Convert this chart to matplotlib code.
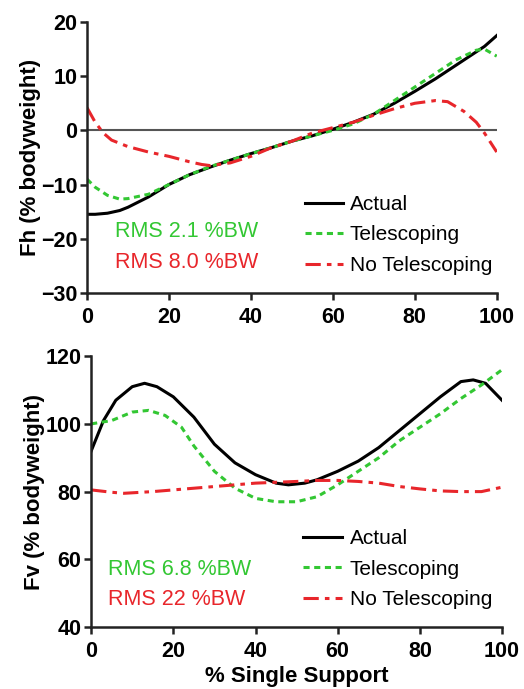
import matplotlib

matplotlib.use("Agg")
import matplotlib.pyplot as plt

plt.rcParams['font.family'] = ['Liberation Sans', 'DejaVu Sans']

GREEN = '#33c733'
RED = '#e8262b'

# Fh (% bodyweight), top panel
fh_x = [0, 2, 5, 8, 10, 15, 20, 25, 30, 35, 40, 45, 50, 55, 60, 65, 70, 75, 80, 85, 90, 95, 97, 100]
fh_actual = [-15.5, -15.5, -15.3, -14.8, -14.2, -12.3, -10.0, -8.2, -6.8, -5.5, -4.3, -3.2, -2.0, -1.0, 0.2,
             1.5, 3.0, 5.0, 7.2, 9.5, 12.0, 14.5, 15.5, 17.5]
fh_tele = [-9.0, -10.5, -12.0, -12.7, -12.6, -11.8, -10.0, -8.2, -6.7, -5.5, -4.3, -3.2, -2.0, -1.0, 0.0,
           1.2, 3.0, 5.5, 8.0, 10.5, 13.0, 14.8, 15.0, 13.7]
fh_notele_x = [0, 2, 4, 6, 10, 15, 20, 25, 28, 30, 35, 40, 45, 50, 55, 60, 65, 70, 75, 80, 85, 88, 92, 95, 97, 100]
fh_notele = [4.2, 1.5, -0.5, -1.8, -3.0, -4.0, -4.8, -5.8, -6.3, -6.5, -6.0, -4.8, -3.2, -2.0, -0.5, 0.5,
             1.5, 2.8, 4.0, 5.0, 5.5, 5.3, 3.5, 1.5, -0.5, -4.0]
fh_rms = ['RMS 2.1 %BW', 'RMS 8.0 %BW']

# Fv (% bodyweight), bottom panel
fv_x = [0, 3, 6, 10, 13, 16, 20, 25, 30, 35, 40, 45, 48, 52, 55, 60, 65, 70, 75, 80, 85, 90, 93, 96, 100]
fv_actual = [92, 101, 107, 111, 112, 111, 108, 102, 94, 88.5, 85, 82.5, 82, 82.5, 83.5, 86, 89, 93, 98, 103,
             108, 112.5, 113, 112, 107]
fv_tele_x = [0, 5, 10, 14, 18, 22, 25, 30, 35, 40, 45, 50, 55, 60, 65, 70, 75, 80, 85, 90, 95, 100]
fv_tele = [100, 101, 103.5, 104, 102.5, 99, 93.5, 86, 81, 78, 77, 77, 78.5, 82, 86, 90, 95, 99, 103, 107.5,
           111.5, 116]
fv_notele_x = [0, 5, 8, 15, 20, 30, 40, 50, 55, 60, 65, 70, 75, 80, 85, 90, 95, 100]
fv_notele = [80.5, 79.8, 79.5, 80, 80.5, 81.5, 82.5, 83, 83.3, 83.3, 83, 82.5, 81.5, 80.8, 80.2, 80, 80, 81.3]
fv_rms = ['RMS 6.8 %BW', 'RMS 22 %BW']

labels = ['Actual', 'Telescoping', 'No Telescoping']

fig = plt.figure(figsize=(5.24, 6.89), dpi=100)
ax1 = fig.add_axes([0.166, 0.575, 0.782, 0.393])
ax2 = fig.add_axes([0.174, 0.090, 0.784, 0.393])


def style_axes(ax):
    for s in ['top', 'right']:
        ax.spines[s].set_visible(False)
    for s in ['left', 'bottom']:
        ax.spines[s].set_linewidth(1.8)
        ax.spines[s].set_color('#222222')
    ax.tick_params(width=1.8, length=5, labelsize=15.5, direction='out', pad=2, color='#222222')
    ax.tick_params(axis='x', pad=5)
    for lbl in ax.get_xticklabels() + ax.get_yticklabels():
        lbl.set_fontweight('bold')
    ax.set_xlim(0, 100)
    ax.set_xticks([0, 20, 40, 60, 80, 100])


# top panel
ax1.axhline(0, color='#555555', linewidth=1.5, zorder=1)
ax1.plot(fh_x, fh_actual, color='black', linewidth=2.2, label=labels[0])
ax1.plot(fh_x, fh_tele, color=GREEN, linewidth=2.2, linestyle=(0, (2, 1.5)), label=labels[1])
ax1.plot(fh_notele_x, fh_notele, color=RED, linewidth=2.2, linestyle=(0, (5, 2, 1.5, 2)), label=labels[2])
ax1.set_ylim(-30, 20)
ax1.set_yticks([-30, -20, -10, 0, 10, 20])
ax1.set_ylabel('Fh (% bodyweight)', fontsize=16, fontweight='bold', labelpad=0)
style_axes(ax1)
ax1.legend(loc='upper left', bbox_to_anchor=(0.507, 0.40), frameon=False, fontsize=15,
           borderpad=0, handlelength=1.8, handletextpad=0.35, labelspacing=0.55)
ax1.text(0.068, 0.225, fh_rms[0], color=GREEN, fontsize=15.5, transform=ax1.transAxes, va='center')
ax1.text(0.068, 0.111, fh_rms[1], color=RED, fontsize=15.5, transform=ax1.transAxes, va='center')

# bottom panel
ax2.plot(fv_x, fv_actual, color='black', linewidth=2.2, label=labels[0])
ax2.plot(fv_tele_x, fv_tele, color=GREEN, linewidth=2.2, linestyle=(0, (2, 1.5)), label=labels[1])
ax2.plot(fv_notele_x, fv_notele, color=RED, linewidth=2.2, linestyle=(0, (5, 2, 1.5, 2)), label=labels[2])
ax2.set_ylim(40, 120)
ax2.set_yticks([40, 60, 80, 100, 120])
ax2.set_ylabel('Fv (% bodyweight)', fontsize=16, fontweight='bold', labelpad=0)
ax2.set_xlabel('% Single Support', fontsize=16, fontweight='bold', labelpad=3)
style_axes(ax2)
ax2.legend(loc='upper left', bbox_to_anchor=(0.49, 0.40), frameon=False, fontsize=15,
           borderpad=0, handlelength=1.9, handletextpad=0.35, labelspacing=0.55)
ax2.text(0.04, 0.214, fv_rms[0], color=GREEN, fontsize=15.5, transform=ax2.transAxes, va='center')
ax2.text(0.04, 0.103, fv_rms[1], color=RED, fontsize=15.5, transform=ax2.transAxes, va='center')

fig.savefig('out.png', dpi=100)
